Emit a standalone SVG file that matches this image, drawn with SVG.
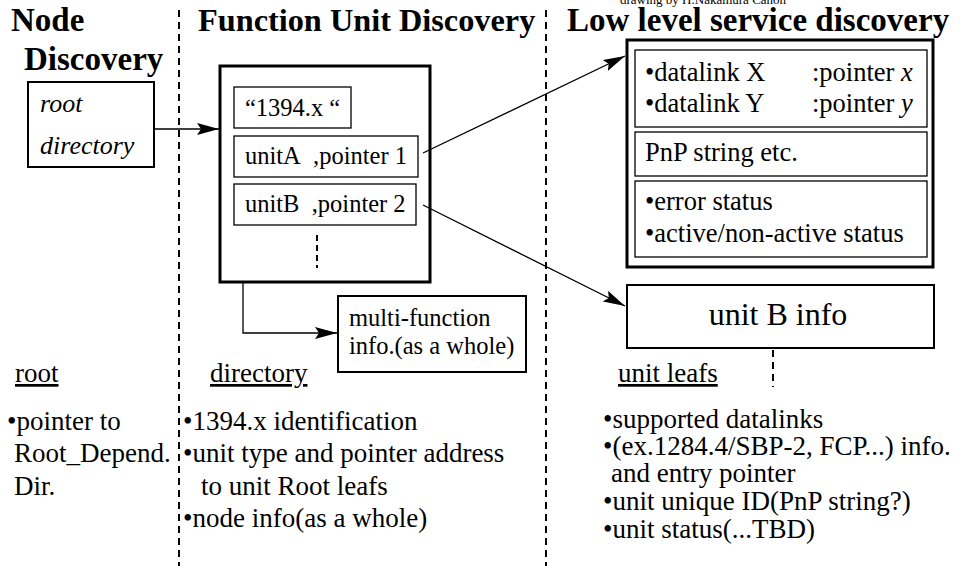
<svg xmlns="http://www.w3.org/2000/svg" width="960" height="569" viewBox="0 0 960 569">
  <style>
    text { font-family: "Liberation Serif", "Times New Roman", serif; fill: #000; }
    .title { font-size: 33px; font-weight: bold; }
    .t { font-size: 27px; }
    .bx { font-size: 24.5px; }
    .ll { font-size: 26.5px; }
    .it { font-style: italic; }
    .box { fill: #fff; stroke: #000; stroke-width: 2; }
    .thin { fill: #fff; stroke: #000; stroke-width: 1.3; }
    .thick { fill: #fff; stroke: #000; stroke-width: 3; }
    .div { stroke: #000; stroke-width: 2; stroke-dasharray: 7 5; fill: none; }
    .conn { stroke: #000; stroke-width: 1.3; fill: none; marker-end: url(#arrow); }
  </style>
  <defs>
    <marker id="arrow" viewBox="0 0 22 12" refX="22" refY="6" markerWidth="22" markerHeight="12" markerUnits="userSpaceOnUse" orient="auto">
      <path d="M0,0 L22,6 L0,12 L4,6 Z" fill="#000"/>
    </marker>
  </defs>
  <rect width="960" height="569" fill="#fff"/>

  <!-- credit line -->
  <text x="620" y="4" style="font-size:13px">drawing by H.Nakamura Canon</text>

  <!-- column dividers -->
  <g id="dividers">
    <line class="div" x1="179" y1="10" x2="179" y2="566"/>
    <line class="div" x1="546" y1="10" x2="546" y2="566"/>
  </g>

  <!-- column headings -->
  <g id="headings">
    <text class="title" x="11" y="31">Node</text>
    <text class="title" x="24" y="70">Discovery</text>
    <text class="title" x="198" y="31" style="font-size:32.3px">Function Unit Discovery</text>
    <text class="title" x="567" y="31">Low level service discovery</text>
  </g>

  <!-- node discovery: root directory -->
  <g id="root-directory">
    <rect class="box" x="28" y="82" width="126" height="85"/>
    <text class="t it" x="40" y="112" style="font-size:26px">root</text>
    <text class="t it" x="40" y="154" style="font-size:26px">directory</text>
  </g>

  <!-- function unit directory -->
  <g id="unit-directory">
    <rect class="thick" x="220" y="66" width="210" height="216"/>
    <rect class="thin" x="234" y="87" width="117" height="41"/>
    <text class="bx" x="245" y="116">“1394.x “</text>
    <rect class="thin" x="234" y="136" width="184" height="41"/>
    <text class="bx" x="245" y="164">unitA&#160; ,pointer 1</text>
    <rect class="thin" x="234" y="184" width="182" height="41"/>
    <text class="bx" x="245" y="212">unitB&#160; ,pointer 2</text>
    <line x1="317" y1="235" x2="317" y2="268" stroke="#000" stroke-width="2" stroke-dasharray="6 4"/>
  </g>

  <!-- multi-function info -->
  <g id="multi-function">
    <rect class="box" x="338" y="296" width="188" height="76"/>
    <text class="bx" x="349" y="326">multi-function</text>
    <text class="bx" x="349" y="354">info.(as a whole)</text>
  </g>

  <!-- low level service descriptor -->
  <g id="service-descriptor">
    <rect class="thick" x="627" y="40" width="306" height="227"/>
    <rect class="thin" x="635" y="50" width="292" height="77"/>
    <text class="ll" x="645" y="81">•datalink X</text>
    <text class="ll" x="812" y="81">:pointer <tspan class="it">x</tspan></text>
    <text class="ll" x="645" y="112">•datalink Y</text>
    <text class="ll" x="812" y="112">:pointer <tspan class="it">y</tspan></text>
    <rect class="thin" x="635" y="132" width="292" height="44"/>
    <text class="ll" x="645" y="161">PnP string etc.</text>
    <rect class="thin" x="635" y="181" width="292" height="76"/>
    <text class="ll" x="645" y="210">•error status</text>
    <text class="ll" x="645" y="242">•active/non-active status</text>
  </g>

  <!-- unit B info -->
  <g id="unit-b-info">
    <rect class="box" x="627" y="285" width="307" height="63"/>
    <text x="778" y="325" text-anchor="middle" style="font-size:32px">unit B info</text>
    <line x1="773" y1="350" x2="773" y2="387" stroke="#000" stroke-width="2" stroke-dasharray="7 5"/>
  </g>

  <!-- connectors -->
  <g id="connectors">
    <line class="conn" x1="154" y1="129" x2="219" y2="129"/>
    <line class="conn" x1="423" y1="153" x2="625" y2="56"/>
    <line class="conn" x1="423" y1="205" x2="625" y2="306"/>
    <polyline class="conn" points="243,282 243,333 337,333"/>
  </g>

  <!-- notes: root -->
  <g id="notes-root">
    <text class="t" x="15" y="382" text-decoration="underline">root</text>
    <text class="t" x="7" y="430">•pointer to</text>
    <text class="t" x="14" y="462">Root_Depend.</text>
    <text class="t" x="14" y="495">Dir.</text>
  </g>

  <!-- notes: directory -->
  <g id="notes-directory">
    <text class="t" x="210" y="382" text-decoration="underline">directory</text>
    <text class="t" x="183" y="430">•1394.x identification</text>
    <text class="t" x="183" y="462">•unit type and pointer address</text>
    <text class="t" x="201" y="495">to unit Root leafs</text>
    <text class="t" x="183" y="527">•node info(as a whole)</text>
  </g>

  <!-- notes: unit leafs -->
  <g id="notes-leafs">
    <text class="t" x="618" y="382" text-decoration="underline">unit leafs</text>
    <text class="t" x="603" y="428">•supported datalinks</text>
    <text class="t" x="603" y="455">•(ex.1284.4/SBP-2, FCP...) info.</text>
    <text class="t" x="611" y="482">and entry pointer</text>
    <text class="t" x="603" y="510">•unit unique ID(PnP string?)</text>
    <text class="t" x="603" y="538">•unit status(...TBD)</text>
  </g>
</svg>
